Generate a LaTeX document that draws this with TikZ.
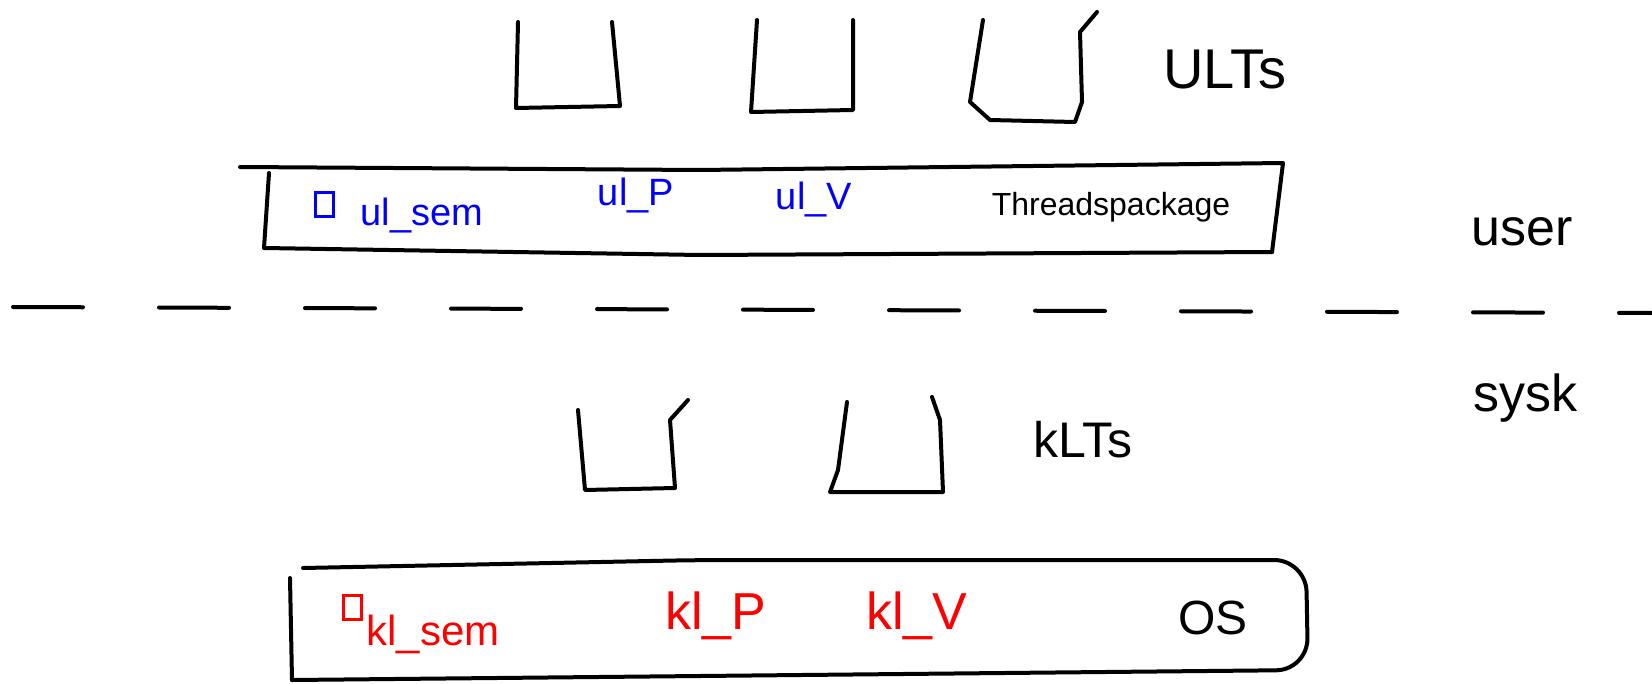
\documentclass[tikz,border=0pt]{standalone}
\usepackage{fontspec}
\setmainfont{Liberation Sans}
\usetikzlibrary{positioning}

\begin{document}
\begin{tikzpicture}[x=0.5pt,y=-0.5pt,
  pen/.style={line width=2pt,line cap=round,line join=round},
  lbl/.style={inner sep=0pt,anchor=center},
  big/.style={lbl,font=\fontsize{28}{30}\selectfont},
  ul/.style={lbl,text=blue,font=\fontsize{19}{21}\selectfont},
  kl/.style={lbl,text=red,font=\fontsize{26}{28}\selectfont},
  sq/.style={draw,line width=1.5pt,minimum width=9pt,minimum height=12pt,inner sep=0pt}
]
\useasboundingbox (0,0) rectangle (1652,684);

% ULTs
\draw[pen] (518,22) -- (516,108) -- (620,106) -- (612,22);
\draw[pen] (757,20) -- (751,112) -- (853,110) -- (853,20);
\draw[pen] (983,20) -- (970,102) -- (990,120) -- (1075,122) -- (1082,102) -- (1080,32) -- (1097,12);
\node[big] (ults) at (1225,70) {ULTs};

% Threads package
\draw[pen] (240,167) -- (700,170) -- (1283,163) -- (1272,252);
\draw[pen] (269,173) -- (264,248) -- (700,255) -- (1272,252);
\node[sq,draw=blue] (usq) at (324,205) {};
\node[ul] (ulsem) at (422,216) {ul\_sem};
\node[ul] (ulp) at (636,196) {ul\_P};
\node[ul] (ulv) at (814,200) {ul\_V};
\node[lbl,font=\fontsize{16}{18}\selectfont] (tp) at (1111,207) {Threadspackage};

% Mode boundary
\draw[pen,dash pattern=on 35pt off 38pt] (13,307) -- (1652,313);
\node[lbl,font=\fontsize{26}{28}\selectfont] (user) at (1522,232) {user};
\node[lbl,font=\fontsize{26}{28}\selectfont] (sysk) at (1525,398) {sysk};

% KLTs
\draw[pen] (578,410) -- (585,490) -- (675,488) -- (670,420) -- (688,400);
\draw[pen] (847,402) -- (838,470) -- (830,492) -- (943,492) -- (940,420) -- (932,397);
\node[big,font=\fontsize{25}{27}\selectfont] (klts) at (1083,440) {kLTs};

% OS
\draw[pen,rounded corners=16] (303,568) -- (700,560) -- (1306,560) -- (1308,670) -- (700,676) -- (292,680);
\draw[pen] (290,578) -- (292,680);
\node[sq,draw=red] (ksq) at (352,607) {};
\node[kl,font=\fontsize{21}{23}\selectfont] (klsem) at (433,634) {kl\_sem};
\node[kl] (klp) at (716,616) {kl\_P};
\node[kl] (klv) at (917,616) {kl\_V};
\node[lbl,font=\fontsize{24}{26}\selectfont] (os) at (1213,618) {OS};
\end{tikzpicture}
\end{document}
